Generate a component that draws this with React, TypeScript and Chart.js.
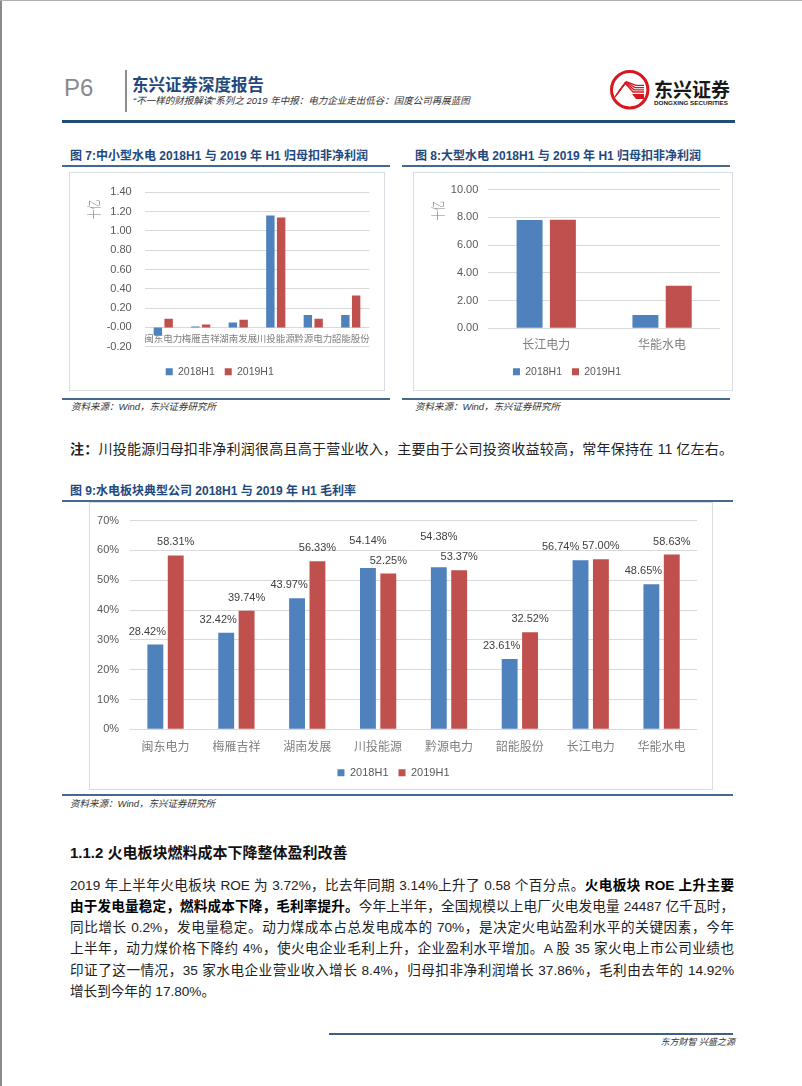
import React, { useEffect, useRef } from 'react';
import { Chart, registerables } from 'chart.js';

Chart.register(...registerables);

// ---------------- data ----------------
const SERIES = ['2018H1', '2019H1'];

const SMALL_HYDRO = ['闽东电力', '梅雁吉祥', '湖南发展', '川投能源', '黔源电力', '韶能股份'];
const SMALL_2018H1 = [-0.08, 0.01, 0.05, 1.16, 0.13, 0.13];
const SMALL_2019H1 = [0.09, 0.03, 0.08, 1.14, 0.09, 0.33];
const SMALL_AXIS = [-0.2, 1.4, 0.2]; // min, max, step

const LARGE_HYDRO = ['长江电力', '华能水电'];
const LARGE_2018H1 = [7.81, 0.96];
const LARGE_2019H1 = [7.82, 3.07];
const LARGE_AXIS = [0, 10, 2];

const MARGIN_COMPANIES = ['闽东电力', '梅雁吉祥', '湖南发展', '川投能源', '黔源电力', '韶能股份', '长江电力', '华能水电'];
const MARGIN_2018H1 = [28.42, 32.42, 43.97, 54.14, 54.38, 23.61, 56.74, 48.65];
const MARGIN_2019H1 = [58.31, 39.74, 56.33, 52.25, 53.37, 32.52, 57.0, 58.63];
const MARGIN_AXIS = [0, 70, 10];

const UNIT_LABEL = '十亿';

// ---------------- styles ----------------
const BLUE = '#4F81BD';
const RED = '#C0504D';
const GRID = '#D9D9D9';
const SANS = "'Liberation Sans', Arial, 'Noto Sans CJK SC', sans-serif";
const CJK = "'Noto Sans CJK SC', 'Liberation Sans', sans-serif";
const NAVY = '#1F497D';
const RULE = '#44698F';

const unitTitlePlugin = {
  id: 'unitTitle',
  afterDraw(chart: any, _args: any, opts: any) {
    if (!opts || !opts.text) return;
    const ctx = chart.ctx;
    ctx.save();
    ctx.translate(opts.x, opts.y);
    ctx.rotate(-Math.PI / 2);
    ctx.scale(opts.squash, 1);
    ctx.font = `300 ${opts.size}px ${CJK}`;
    ctx.fillStyle = opts.color;
    ctx.textAlign = 'center';
    ctx.textBaseline = 'middle';
    ctx.fillText(opts.text, 0, 0);
    ctx.restore();
  },
};

const barLabelsPlugin = {
  id: 'barLabels',
  afterDatasetsDraw(chart: any, _args: any, opts: any) {
    if (!opts || !opts.display) return;
    const ctx = chart.ctx;
    ctx.save();
    ctx.font = `${opts.size}px ${SANS}`;
    ctx.fillStyle = opts.color;
    ctx.textAlign = 'center';
    ctx.textBaseline = 'middle';
    const metaA = chart.getDatasetMeta(0);
    const metaB = chart.getDatasetMeta(1);
    const valsA = chart.data.datasets[0].data;
    const valsB = chart.data.datasets[1].data;
    const fmt = (v: number) => v.toFixed(2) + '%';
    const h = opts.size + 3;
    metaA.data.forEach((barA: any, i: number) => {
      const barB = metaB.data[i];
      const tA = fmt(valsA[i]);
      const tB = fmt(valsB[i]);
      const wA = ctx.measureText(tA).width;
      const wB = ctx.measureText(tB).width;
      const xB = barB.x;
      const yB = barB.y - opts.offset;
      let xA = barA.x - opts.nudge;
      let yA = barA.y - opts.offset;
      const overlapV = Math.abs(yA - yB) < h;
      const overlapH = xA + wA / 2 + opts.gap > xB - wB / 2;
      if (overlapV && overlapH) {
        if (valsA[i] > valsB[i]) {
          xA = barA.x;
          yA = yB - opts.raise;
        } else {
          xA = xB - wB / 2 - opts.gap - wA / 2;
        }
      }
      ctx.fillText(tA, xA, yA);
      ctx.fillText(tB, xB, yB);
    });
    ctx.restore();
  },
};

function barConfig(p: any) {
  return {
    type: 'bar',
    data: {
      labels: p.labels,
      datasets: [
        { label: SERIES[0], data: p.a, backgroundColor: BLUE },
        { label: SERIES[1], data: p.b, backgroundColor: RED },
      ],
    },
    options: {
      responsive: false,
      maintainAspectRatio: false,
      animation: false,
      devicePixelRatio: 1,
      events: [],
      layout: { padding: p.padding },
      datasets: { bar: { categoryPercentage: 0.575, barPercentage: 0.78 } },
      scales: {
        x: {
          position: p.xAtZero ? { y: 0 } : 'bottom',
          grid: { display: false, drawTicks: false },
          border: { display: false },
          ticks: {
            autoSkip: false,
            maxRotation: 0,
            minRotation: 0,
            padding: p.xPad,
            color: '#7f7f7f',
            font: { family: CJK, size: p.xFont },
          },
          afterFit: p.xAtZero
            ? undefined
            : (s: any) => {
                s.height = p.xHeight;
              },
        },
        y: {
          min: p.axis[0],
          max: p.axis[1],
          grid: { color: GRID, drawTicks: false, lineWidth: 1 },
          border: { display: false },
          ticks: {
            stepSize: p.axis[2],
            padding: p.yPad,
            color: '#595959',
            font: { family: SANS, size: p.yFont },
            callback: p.fmt,
          },
          afterFit: (s: any) => {
            s.width = p.yWidth;
          },
        },
      },
      plugins: {
        legend: {
          position: 'bottom',
          align: 'center',
          labels: {
            boxWidth: 7,
            boxHeight: 7,
            padding: 10,
            color: '#595959',
            font: { family: SANS, size: p.legendFont },
          },
          title: p.legendGap
            ? { display: true, text: '', padding: { top: p.legendGap, bottom: 0 }, font: { size: 1 } }
            : { display: false },
        },
        tooltip: { enabled: false },
        unitTitle: p.unit,
        barLabels: p.barLabels,
      },
    },
    plugins: [unitTitlePlugin, barLabelsPlugin],
  };
}

function ChartBox({ x, y, w, h, make }: any) {
  const ref = useRef<HTMLCanvasElement>(null);
  useEffect(() => {
    const chart = new Chart(ref.current as HTMLCanvasElement, make() as any);
    return () => chart.destroy();
  }, []);
  return (
    <div
      style={{
        position: 'absolute',
        left: x,
        top: y,
        width: w,
        height: h,
        border: '1px solid #d9dde3',
        boxSizing: 'border-box',
        background: '#fff',
      }}
    >
      <canvas ref={ref} width={w - 2} height={h - 2} style={{ display: 'block', width: w - 2, height: h - 2 }} />
    </div>
  );
}

const smallCfg = () =>
  barConfig({
    labels: SMALL_HYDRO,
    a: SMALL_2018H1,
    b: SMALL_2019H1,
    axis: SMALL_AXIS,
    fmt: (v: any) => Number(v).toFixed(2),
    padding: { left: 0, right: 14.5, top: 13.7, bottom: 3.05 },
    xAtZero: true,
    xPad: 5,
    xFont: 9.5,
    yPad: 12.8,
    yFont: 11,
    yWidth: 74.5,
    legendFont: 10.5,
    legendGap: 8.55,
    unit: { text: UNIT_LABEL, x: 23.5, y: 36.5, size: 14, squash: 0.7, color: '#7f7f7f' },
    barLabels: { display: false },
  });

const largeCfg = () =>
  barConfig({
    labels: LARGE_HYDRO,
    a: LARGE_2018H1,
    b: LARGE_2019H1,
    axis: LARGE_AXIS,
    fmt: (v: any) => Number(v).toFixed(2),
    padding: { left: 0, right: 12, top: 13.7, bottom: 3.05 },
    xAtZero: false,
    xPad: 8.5,
    xHeight: 28.15,
    xFont: 12,
    yPad: 10,
    yFont: 11,
    yWidth: 74.3,
    legendFont: 10.5,
    unit: { text: UNIT_LABEL, x: 24, y: 37.8, size: 14, squash: 0.7, color: '#7f7f7f' },
    barLabels: { display: false },
  });

const marginCfg = () =>
  barConfig({
    labels: MARGIN_COMPANIES,
    a: MARGIN_2018H1,
    b: MARGIN_2019H1,
    axis: MARGIN_AXIS,
    fmt: (v: any) => v + '%',
    padding: { left: 0, right: 15, top: 13.7, bottom: 0.8 },
    xAtZero: false,
    xPad: 9.5,
    xHeight: 27.9,
    xFont: 12,
    yPad: 11,
    yFont: 11,
    yWidth: 40.1,
    legendFont: 11,
    unit: null,
    barLabels: { display: true, size: 11, color: '#404040', offset: 13, nudge: 8, gap: 3, raise: 20 },
  });

function Txt({ x, cy, size, lh, children, style }: any) {
  return (
    <div
      style={{
        position: 'absolute',
        left: x,
        top: cy - lh / 2,
        fontSize: size,
        lineHeight: lh + 'px',
        whiteSpace: 'nowrap',
        ...style,
      }}
    >
      {children}
    </div>
  );
}

function Rule({ x, y, w, h, color }: any) {
  return <div style={{ position: 'absolute', left: x, top: y, width: w, height: h, background: color }} />;
}

const SOURCE = '资料来源：Wind，东兴证券研究所';

function Source({ x, cy }: any) {
  return (
    <Txt x={x} cy={cy} size={9.5} lh={12} style={{ fontStyle: 'italic', color: '#333' }}>
      {SOURCE}
    </Txt>
  );
}

function Logo() {
  return (
    <svg
      width={134}
      height={50}
      viewBox="0 0 134 50"
      style={{ position: 'absolute', left: 606, top: 66 }}
    >
      <circle cx={23.7} cy={23.7} r={18.2} fill="#fff" stroke="#D7191F" strokeWidth={3} />
      {[0, 1, 2, 3].map((k) => (
        <polyline
          key={k}
          points={`${9 + k * 1.5},${31 - k * 2.2} ${19 + k * 0.5},${17 - k * 0.4} ${27 + k},${26 - k * 2.2} ${38},${26 - k * 2.2}`}
          fill="none"
          stroke="#D7191F"
          strokeWidth={1.3}
        />
      ))}
      <polygon points="26,28 38,28 38,33 30,33" fill="#D7191F" />
      <text
        x={48}
        y={31}
        fontSize={19}
        fontWeight={700}
        fontFamily={CJK}
        fill="#1a1a1a"
        textLength={76}
        lengthAdjust="spacingAndGlyphs"
      >
        东兴证券
      </text>
      <text
        x={48}
        y={39}
        fontSize={6}
        fontWeight={700}
        fontFamily={SANS}
        fill="#1a1a1a"
        textLength={74}
        lengthAdjust="spacingAndGlyphs"
      >
        DONGXING SECURITIES
      </text>
    </svg>
  );
}

const PARA_STYLE: any = {
  position: 'absolute',
  left: 70,
  width: 664,
  fontSize: 13.6,
  lineHeight: '18px',
  color: '#222',
  textAlign: 'justify',
  textAlignLast: 'justify',
};

function ParaLine({ i, children, last }: any) {
  const cy = 885.7 + i * 21.2;
  return (
    <div style={{ ...PARA_STYLE, top: cy - 9, textAlignLast: last ? 'left' : 'justify' }}>{children}</div>
  );
}

export default function App() {
  return (
    <div
      style={{
        position: 'absolute',
        left: 0,
        top: 0,
        width: 802,
        height: 1086,
        background: '#fff',
        overflow: 'hidden',
        fontFamily: SANS,
        color: '#222',
      }}
    >
      {/* page frame */}
      <Rule x={0} y={0} w={2} h={1086} color="#8a8a8a" />
      <Rule x={0} y={0} w={802} h={1} color="#b0b0b0" />

      {/* header */}
      <Txt x={64} cy={88} size={24} lh={26} style={{ color: '#8a8a8a' }}>
        P6
      </Txt>
      <Rule x={125} y={70} w={2} h={42} color="#8c8c8c" />
      <Txt x={132} cy={84} size={16.5} lh={18} style={{ color: NAVY, fontWeight: 700, fontFamily: CJK }}>
        东兴证券深度报告
      </Txt>
      <Txt x={133} cy={100.5} size={9.5} lh={12} style={{ color: '#333', fontStyle: 'italic' }}>
        “不一样的财报解读”系列之 2019 年中报：电力企业走出低谷：国度公司再展蓝图
      </Txt>
      <Logo />
      <Rule x={62} y={120} w={673} h={3} color="#1F4E79" />

      {/* chart 7 */}
      <Txt x={70} cy={156} size={12} lh={14} style={{ color: NAVY, fontWeight: 700 }}>
        图 7:中小型水电 2018H1 与 2019 年 H1 归母扣非净利润
      </Txt>
      <Rule x={62} y={165} w={328} h={2} color={RULE} />
      <ChartBox x={69} y={172} w={316} h={219} make={smallCfg} />
      <Rule x={62} y={397.5} w={328} h={2} color={RULE} />
      <Source x={71} cy={406.7} />

      {/* chart 8 */}
      <Txt x={415} cy={156} size={12} lh={14} style={{ color: NAVY, fontWeight: 700 }}>
        图 8:大型水电 2018H1 与 2019 年 H1 归母扣非净利润
      </Txt>
      <Rule x={402} y={165} w={328} h={2} color={RULE} />
      <ChartBox x={413} y={172} w={320} h={219} make={largeCfg} />
      <Rule x={402} y={397.5} w={328} h={2} color={RULE} />
      <Source x={415} cy={406.7} />

      {/* note */}
      <div
        style={{
          position: 'absolute',
          left: 70,
          top: 449 - 9,
          width: 663,
          fontSize: 14,
          lineHeight: '18px',
          color: '#222',
          textAlign: 'justify',
          textAlignLast: 'justify',
        }}
      >
        <b>注：</b>川投能源归母扣非净利润很高且高于营业收入，主要由于公司投资收益较高，常年保持在 11 亿左右。
      </div>

      {/* chart 9 */}
      <Txt x={70} cy={491} size={12} lh={14} style={{ color: NAVY, fontWeight: 700 }}>
        图 9:水电板块典型公司 2018H1 与 2019 年 H1 毛利率
      </Txt>
      <Rule x={62} y={499.5} w={671} h={2} color={RULE} />
      <ChartBox x={89} y={502} w={624} h={288} make={marginCfg} />
      <Rule x={62} y={794} w={671} h={2} color={RULE} />
      <Source x={70} cy={804} />

      {/* section */}
      <Txt x={70} cy={853.3} size={15} lh={18} style={{ fontWeight: 700, color: '#111' }}>
        1.1.2 火电板块燃料成本下降整体盈利改善
      </Txt>
      <ParaLine i={0}>
        2019 年上半年火电板块 ROE 为 3.72%，比去年同期 3.14%上升了 0.58 个百分点。<b style={{ color: '#000' }}>火电板块 ROE 上升主要</b>
      </ParaLine>
      <ParaLine i={1}>
        <b style={{ color: '#000' }}>由于发电量稳定，燃料成本下降，毛利率提升。</b>今年上半年，全国规模以上电厂火电发电量 24487 亿千瓦时，
      </ParaLine>
      <ParaLine i={2}>同比增长 0.2%，发电量稳定。动力煤成本占总发电成本的 70%，是决定火电站盈利水平的关键因素，今年</ParaLine>
      <ParaLine i={3}>上半年，动力煤价格下降约 4%，使火电企业毛利上升，企业盈利水平增加。A 股 35 家火电上市公司业绩也</ParaLine>
      <ParaLine i={4}>印证了这一情况，35 家水电企业营业收入增长 8.4%，归母扣非净利润增长 37.86%，毛利由去年的 14.92%</ParaLine>
      <ParaLine i={5} last>
        增长到今年的 17.80%。
      </ParaLine>

      {/* footer */}
      <Rule x={329} y={1032.5} w={404} h={2} color="#3D5F84" />
      <div
        style={{
          position: 'absolute',
          right: 802 - 735,
          top: 1042 - 6,
          fontSize: 9,
          lineHeight: '12px',
          fontStyle: 'italic',
          color: '#333',
          whiteSpace: 'nowrap',
        }}
      >
        东方财智 兴盛之源
      </div>
    </div>
  );
}
